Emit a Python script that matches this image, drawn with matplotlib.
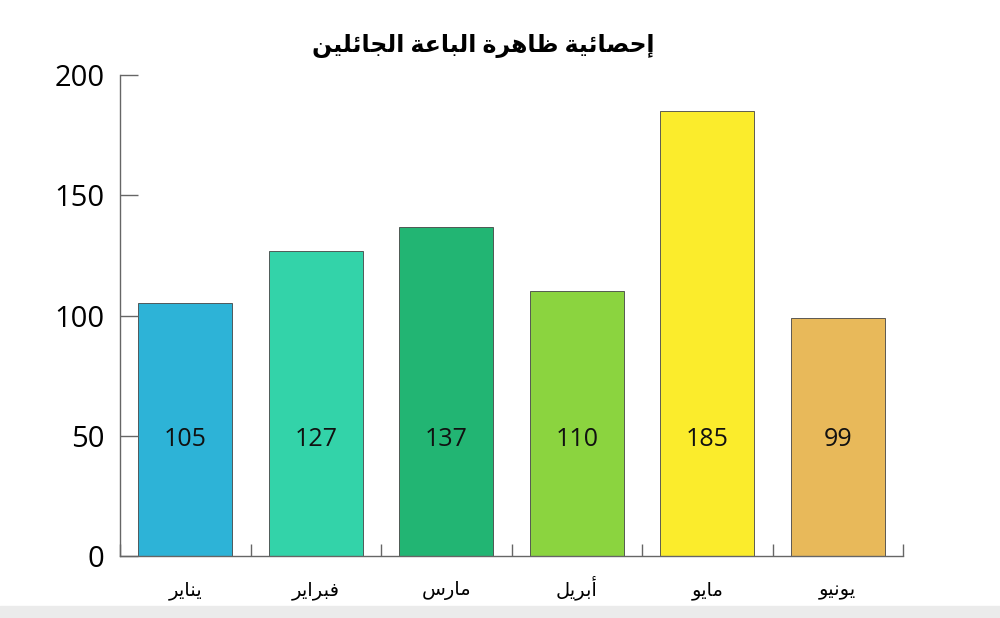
import matplotlib.pyplot as plt
from matplotlib.patches import Rectangle

# Arabic letters -> presentation forms (isolated, final, initial, medial)
FORMS = {
    'ا': ('\uFE8D', '\uFE8E'), 'أ': ('\uFE83', '\uFE84'), 'إ': ('\uFE87', '\uFE88'),
    'ة': ('\uFE93', '\uFE94'), 'ر': ('\uFEAD', '\uFEAE'), 'و': ('\uFEED', '\uFEEE'),
    'ب': ('\uFE8F', '\uFE90', '\uFE91', '\uFE92'), 'ج': ('\uFE9D', '\uFE9E', '\uFE9F', '\uFEA0'),
    'ح': ('\uFEA1', '\uFEA2', '\uFEA3', '\uFEA4'), 'س': ('\uFEB1', '\uFEB2', '\uFEB3', '\uFEB4'),
    'ص': ('\uFEB9', '\uFEBA', '\uFEBB', '\uFEBC'), 'ظ': ('\uFEC5', '\uFEC6', '\uFEC7', '\uFEC8'),
    'ع': ('\uFEC9', '\uFECA', '\uFECB', '\uFECC'), 'ف': ('\uFED1', '\uFED2', '\uFED3', '\uFED4'),
    'ل': ('\uFEDD', '\uFEDE', '\uFEDF', '\uFEE0'), 'م': ('\uFEE1', '\uFEE2', '\uFEE3', '\uFEE4'),
    'ن': ('\uFEE5', '\uFEE6', '\uFEE7', '\uFEE8'), 'ه': ('\uFEE9', '\uFEEA', '\uFEEB', '\uFEEC'),
    'ي': ('\uFEF1', '\uFEF2', '\uFEF3', '\uFEF4'), 'ئ': ('\uFE89', '\uFE8A', '\uFE8B', '\uFE8C'),
}


def shape(text):
    out = []
    for i, c in enumerate(text):
        if c not in FORMS:
            out.append(c)
            continue
        f = FORMS[c]
        prev = text[i - 1] if i > 0 else None
        nxt = text[i + 1] if i + 1 < len(text) else None
        jp = prev in FORMS and len(FORMS[prev]) == 4
        jn = nxt in FORMS and len(f) == 4
        if jp and jn:
            out.append(f[3])
        elif jp:
            out.append(f[1])
        elif jn:
            out.append(f[2])
        else:
            out.append(f[0])
    return ''.join(reversed(out))


title = 'إحصائية ظاهرة الباعة الجائلين'
months = ['يناير', 'فبراير', 'مارس', 'أبريل', 'مايو', 'يونيو']
values = [105, 127, 137, 110, 185, 99]
colors = ['#2DB3D7', '#33D3A9', '#22B573', '#8BD43F', '#FBEC2C', '#E8B95A']

fam = ['Open Sans', 'DejaVu Sans']
plt.rcParams['font.family'] = fam

fig = plt.figure(figsize=(10, 6.18), dpi=100)
ax = fig.add_axes([0.12, 0.1003, 0.783, 0.7783])

x = list(range(len(values)))
ax.bar(x, values, width=0.72, color=colors, edgecolor='#444444', linewidth=0.6)
for xi, v in zip(x, values):
    ax.text(xi, 48.5, str(v), ha='center', va='center', fontsize=18, color='#111111')

ax.set_xlim(-0.5, 5.5)
ax.set_ylim(0, 200)
ax.set_yticks([0, 50, 100, 150, 200])
ax.set_xticks(x)
ax.set_xticklabels([shape(m) for m in months], fontsize=14, va='baseline')
ax.set_xticks([i - 0.5 for i in range(len(values) + 1)], minor=True)

for s in ['top', 'right']:
    ax.spines[s].set_visible(False)
for s in ['left', 'bottom']:
    ax.spines[s].set_color('#666666')
    ax.spines[s].set_linewidth(1.0)

ax.tick_params(axis='y', direction='in', length=13, width=1, color='#666666',
               labelsize=21, pad=11)
ax.tick_params(axis='x', which='major', length=0, pad=28)
ax.tick_params(axis='x', which='minor', direction='in', length=9, width=1, color='#666666')

fig.text(0.483, 0.925, shape(title), ha='center', va='center', fontsize=17,
         fontweight='bold')

# light grey strip at the bottom
fig.patches.append(Rectangle((0, 0), 1, 0.02, transform=fig.transFigure,
                             color='#EBEBEB', zorder=0))

fig.savefig('out.png', dpi=100)
